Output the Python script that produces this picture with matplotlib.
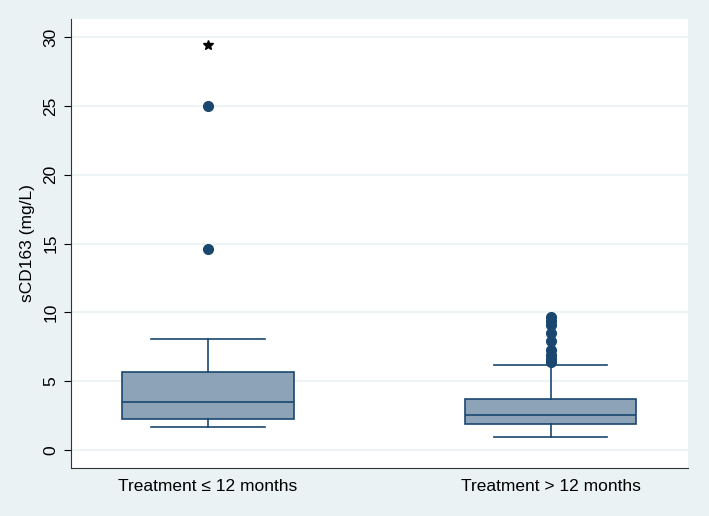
import numpy as np
import matplotlib.pyplot as plt

plt.rcParams['font.family'] = ['Liberation Sans', 'DejaVu Sans']

# summary values (mg/L)
groups = ['Treatment \u2264 12 months', 'Treatment > 12 months']
whislo = [1.7, 0.92]
q1 = [2.25, 1.91]
medians = [3.51, 2.52]
q3 = [5.66, 3.70]
whishi = [8.04, 6.15]
outliers = [[14.6, 25.0], [6.4, 6.6, 6.9, 7.3, 7.9, 8.5, 9.1, 9.4, 9.7]]
extreme = [29.4, None]

navy = '#1A476F'
fill = '#8DA3B8'
bg = '#EAF2F3'

stats = []
for i, name in enumerate(groups):
    stats.append({'label': name, 'whislo': whislo[i], 'q1': q1[i], 'med': medians[i],
                  'q3': q3[i], 'whishi': whishi[i], 'fliers': outliers[i]})

fig = plt.figure(figsize=(7.09, 5.16), dpi=100, facecolor=bg)
ax = fig.add_axes([0.100, 0.093, 0.870, 0.870])

ax.bxp(stats, positions=[1, 2], widths=0.5, patch_artist=True, capwidths=0.33,
       boxprops=dict(facecolor=fill, edgecolor=navy, linewidth=1.2),
       medianprops=dict(color=navy, linewidth=1.2),
       whiskerprops=dict(color=navy, linewidth=1.2),
       capprops=dict(color=navy, linewidth=1.2),
       flierprops=dict(marker='o', markerfacecolor=navy, markeredgecolor=navy, markersize=7))

for i, v in enumerate(extreme):
    if v is not None:
        ax.plot(i + 1, v, marker='*', color='black', markersize=7, linestyle='none')

ax.set_xlim(0.6, 2.4)
ax.set_ylim(-1.3, 31.3)
ax.set_yticks([0, 5, 10, 15, 20, 25, 30])
ax.grid(axis='y', color=bg, linewidth=1.2)
ax.set_axisbelow(True)
ax.set_xticks([1, 2])
ax.set_xticklabels(groups, fontsize=12.5)
ax.tick_params(axis='x', length=0, pad=8)
ax.tick_params(axis='y', direction='out', length=5, labelsize=12.5, pad=4)
for lab in ax.get_yticklabels():
    lab.set_rotation(90)
    lab.set_va('center')
ax.set_ylabel('sCD163 (mg/L)', fontsize=12.5, labelpad=6)

ax.spines['top'].set_visible(False)
ax.spines['right'].set_visible(False)
ax.spines['left'].set_color('#333333')
ax.spines['bottom'].set_color('#333333')

fig.savefig('out.png', dpi=100, facecolor=bg)
